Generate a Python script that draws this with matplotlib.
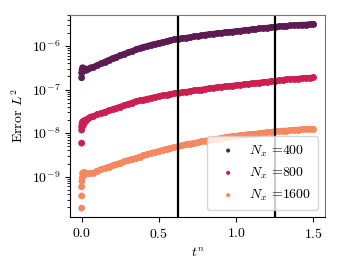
import numpy as np
import matplotlib
matplotlib.use("Agg")
import matplotlib.pyplot as plt

plt.rcParams['font.family'] = 'serif'
plt.rcParams['font.serif'] = ['cmr10']
plt.rcParams['mathtext.fontset'] = 'cm'
plt.rcParams['axes.formatter.use_mathtext'] = True
plt.rcParams['font.size'] = 10

# sample times (early transient + regular output times)
t_main = np.linspace(0.075, 1.5, 58)

# log10 of the L2 error
log_err_400 = [
    -6.48, -6.44, -6.40, -6.36, -6.32, -6.28, -6.25, -6.21, -6.18, -6.15,
    -6.12, -6.08, -6.05, -6.02, -6.00, -5.97, -5.95, -5.93, -5.91, -5.89,
    -5.87, -5.85, -5.83, -5.82, -5.81, -5.80, -5.78, -5.77, -5.76, -5.74,
    -5.73, -5.72, -5.71, -5.70, -5.69, -5.68, -5.67, -5.66, -5.65, -5.64,
    -5.63, -5.62, -5.61, -5.60, -5.59, -5.58, -5.57, -5.56, -5.55, -5.54,
    -5.54, -5.53, -5.52, -5.52, -5.51, -5.51, -5.50, -5.49]
log_err_800 = [
    -7.61, -7.57, -7.54, -7.51, -7.48, -7.45, -7.42, -7.39, -7.36, -7.33,
    -7.30, -7.27, -7.25, -7.23, -7.21, -7.19, -7.17, -7.15, -7.13, -7.12,
    -7.10, -7.09, -7.08, -7.06, -7.05, -7.04, -7.02, -7.01, -7.00, -6.99,
    -6.97, -6.96, -6.95, -6.94, -6.93, -6.92, -6.91, -6.90, -6.89, -6.88,
    -6.87, -6.86, -6.85, -6.84, -6.83, -6.82, -6.81, -6.80, -6.79, -6.78,
    -6.77, -6.76, -6.76, -6.75, -6.74, -6.73, -6.73, -6.72]
log_err_1600 = [
    -8.91, -8.86, -8.83, -8.80, -8.77, -8.74, -8.71, -8.68, -8.65, -8.62,
    -8.59, -8.57, -8.54, -8.51, -8.48, -8.45, -8.43, -8.41, -8.38, -8.36,
    -8.34, -8.32, -8.30, -8.28, -8.26, -8.24, -8.22, -8.21, -8.19, -8.17,
    -8.16, -8.14, -8.13, -8.11, -8.10, -8.08, -8.07, -8.06, -8.05, -8.04,
    -8.03, -8.02, -8.01, -8.00, -7.99, -7.98, -7.97, -7.96, -7.95, -7.94,
    -7.94, -7.93, -7.92, -7.92, -7.91, -7.91, -7.90, -7.90]

t_early_400 = [0.0, 0.0, 0.003, 0.006, 0.01, 0.015, 0.02, 0.025, 0.03, 0.04, 0.05, 0.06]
log_early_400 = [-6.73, -6.62, -6.55, -6.50, -6.58, -6.52, -6.55, -6.53, -6.56, -6.54, -6.52, -6.50]
t_early_800 = [0.0, 0.0, 0.0, 0.003, 0.006, 0.01, 0.015, 0.02, 0.025, 0.03, 0.04, 0.05, 0.06]
log_early_800 = [-8.23, -7.93, -7.85, -7.78, -7.74, -7.83, -7.72, -7.76, -7.70, -7.72, -7.68, -7.65, -7.63]
t_early_1600 = [0.0, 0.0, 0.0, 0.002, 0.004, 0.006, 0.01, 0.015, 0.02, 0.025, 0.03, 0.04, 0.05, 0.06]
log_early_1600 = [-9.72, -9.44, -9.23, -9.10, -9.02, -8.92, -8.98, -8.90, -8.95, -8.92, -8.94, -8.93, -8.93, -8.92]

resolutions = [400, 800, 1600]
colors = ['#5e1b52', '#cc1e51', '#f6885f']
vlines = [0.625, 1.25]

series = [
    (t_early_400, log_early_400, log_err_400),
    (t_early_800, log_early_800, log_err_800),
    (t_early_1600, log_early_1600, log_err_1600),
]

fig = plt.figure(figsize=(3.4, 2.72), dpi=100)
ax = fig.add_axes([0.206, 0.202, 0.75, 0.743])

for (te, le, lm), nx, c in zip(series, resolutions, colors):
    # dense output: the dots merge into a thick band
    ax.plot(t_main, 10.0 ** np.array(lm), color=c, lw=4.0, marker='o', ms=5,
            mec='none', solid_capstyle='round', solid_joinstyle='round')
    ax.scatter(te, 10.0 ** np.array(le), s=24, color=c, edgecolors='none',
               label=r'$N_x$ =%d' % nx)

for v in vlines:
    ax.axvline(v, color='black', lw=1.6)

ax.set_yscale('log')
ax.set_ylim(10 ** -9.925, 10 ** -5.29)
ax.set_xlim(-0.075, 1.575)
ax.set_xticks([0.0, 0.5, 1.0, 1.5])
ax.set_xlabel(r'$t^n$')
ax.set_ylabel(r'Error $L^2$')

for s in ['top', 'right']:
    ax.spines[s].set_color('0.45')
ax.tick_params(axis='x', which='both', top=False)
ax.tick_params(axis='y', which='both', right=False)

ax.legend(loc='lower right', handletextpad=0.5, borderpad=0.5,
          labelspacing=0.5, markerscale=0.6)

plt.savefig('out.png', dpi=100)
